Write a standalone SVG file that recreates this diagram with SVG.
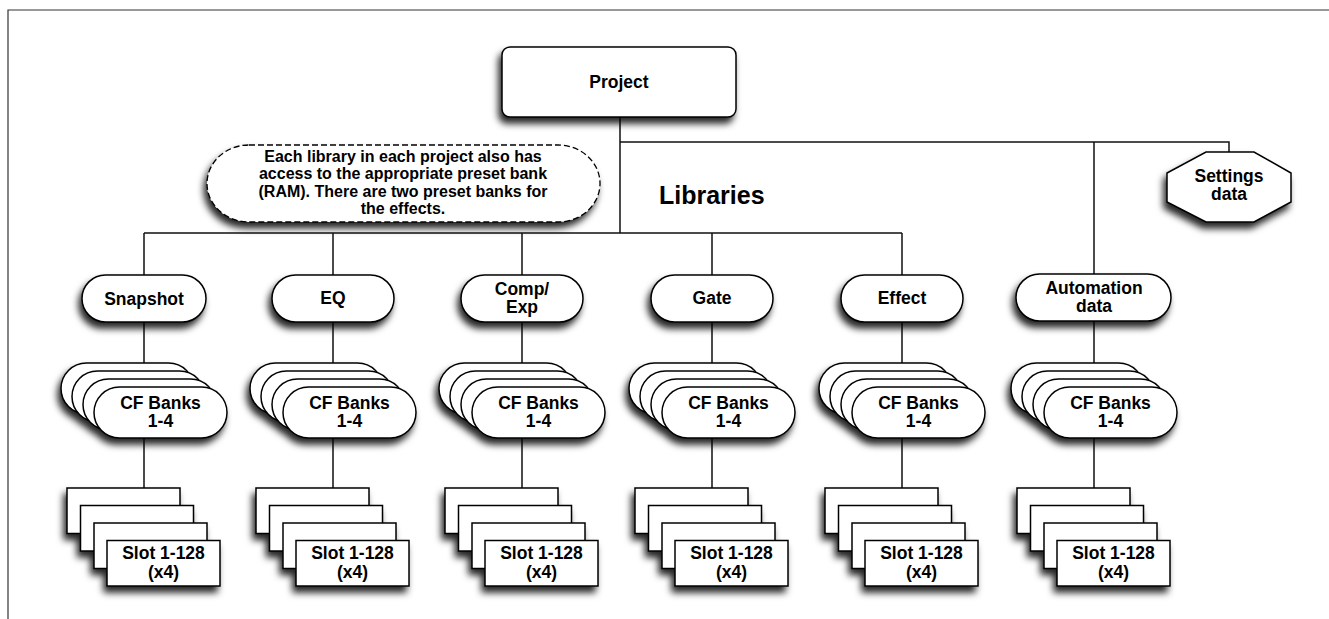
<svg xmlns="http://www.w3.org/2000/svg" width="1329" height="619" viewBox="0 0 1329 619">
<defs>
<filter id="sh" x="-30%" y="-30%" width="160%" height="180%">
<feDropShadow dx="-3" dy="6" stdDeviation="3.5" flood-color="#000" flood-opacity="0.85"/>
</filter>
<style>
.n{fill:#fff;stroke:#000;stroke-width:1.5}
.d{fill:#fff;stroke:#000;stroke-width:1.3;stroke-dasharray:6 3}
.t{font-family:"Liberation Sans",Arial,Helvetica,sans-serif;font-weight:bold;font-size:17.5px;text-anchor:middle;fill:#000}
.s{font-size:16px}
.big{font-size:25px;text-anchor:start}
.c{fill:none;stroke:#111;stroke-width:1.5}
.f{fill:none;stroke:#333;stroke-width:1.2}
</style>
</defs>
<rect width="1329" height="619" fill="#fff"/>
<path class="f" d="M8,619 V10 H1329"/>

<g id="connectors">
<path class="c" d="M620,117 V233 M144,233 H902 M144,233 V275 M333,233 V275 M522,233 V275 M712,233 V275 M902,233 V275"/>
<path class="c" d="M620,142 H1229 V152 M1094,142 V274"/>
<path class="c" d="M144,322 V363 M333,322 V363 M522,322 V363 M712,322 V363 M902,322 V363 M1094,321 V363"/>
<path class="c" d="M144,438 V488 M333,438 V488 M522,438 V488 M712,438 V488 M902,438 V488 M1094,438 V488"/>
</g>

<g id="project">
<rect class="n" x="502" y="47" width="234" height="70" rx="8" filter="url(#sh)"/>
<text class="t" x="619" y="88">Project</text>
</g>

<g id="note">
<rect class="d" x="207" y="145" width="393" height="77" rx="42" ry="38.5" filter="url(#sh)"/>
<text class="t s" x="403" y="162">Each library in each project also has</text>
<text class="t s" x="403" y="179">access to the appropriate preset bank</text>
<text class="t s" x="403" y="197">(RAM). There are two preset banks for</text>
<text class="t s" x="403" y="214">the effects.</text>
</g>

<g id="libraries-label">
<text class="t big" x="659" y="204">Libraries</text>
</g>

<g id="settings">
<polygon class="n" points="1206,152 1254,152 1291,173 1291,202 1254,222 1206,222 1167,202 1167,173" filter="url(#sh)"/>
<text class="t" x="1229" y="182">Settings</text>
<text class="t" x="1229" y="200">data</text>
</g>

<g id="snapshot" transform="translate(144,0)">
<rect class="n" x="-62" y="275" width="124" height="47" rx="23.5" filter="url(#sh)"/>
<text class="t" x="0" y="305">Snapshot</text>
<g filter="url(#sh)">
<rect class="n" x="-83" y="363" width="133" height="51" rx="25.5"/>
<rect class="n" x="-72" y="371" width="133" height="51" rx="25.5"/>
<rect class="n" x="-61" y="379" width="133" height="51" rx="25.5"/>
<rect class="n" x="-50" y="387" width="133" height="51" rx="25.5"/>
</g>
<text class="t" x="16.5" y="409">CF Banks</text>
<text class="t" x="16.5" y="427">1-4</text>
<g filter="url(#sh)">
<rect class="n" x="-77" y="488" width="113" height="45.5"/>
<rect class="n" x="-63.5" y="505.5" width="113" height="45.5"/>
<rect class="n" x="-50" y="523" width="113" height="45.5"/>
<rect class="n" x="-37" y="540.5" width="113" height="45.5"/>
</g>
<text class="t" x="19.5" y="559">Slot 1-128</text>
<text class="t" x="19.5" y="578">(x4)</text>
</g>

<g id="eq" transform="translate(333,0)">
<rect class="n" x="-61" y="275" width="122" height="47" rx="23.5" filter="url(#sh)"/>
<text class="t" x="0" y="304">EQ</text>
<g filter="url(#sh)">
<rect class="n" x="-83" y="363" width="133" height="51" rx="25.5"/>
<rect class="n" x="-72" y="371" width="133" height="51" rx="25.5"/>
<rect class="n" x="-61" y="379" width="133" height="51" rx="25.5"/>
<rect class="n" x="-50" y="387" width="133" height="51" rx="25.5"/>
</g>
<text class="t" x="16.5" y="409">CF Banks</text>
<text class="t" x="16.5" y="427">1-4</text>
<g filter="url(#sh)">
<rect class="n" x="-77" y="488" width="113" height="45.5"/>
<rect class="n" x="-63.5" y="505.5" width="113" height="45.5"/>
<rect class="n" x="-50" y="523" width="113" height="45.5"/>
<rect class="n" x="-37" y="540.5" width="113" height="45.5"/>
</g>
<text class="t" x="19.5" y="559">Slot 1-128</text>
<text class="t" x="19.5" y="578">(x4)</text>
</g>

<g id="compexp" transform="translate(522,0)">
<rect class="n" x="-61" y="275" width="122" height="47" rx="23.5" filter="url(#sh)"/>
<text class="t" x="0" y="295">Comp/</text>
<text class="t" x="0" y="313">Exp</text>
<g filter="url(#sh)">
<rect class="n" x="-83" y="363" width="133" height="51" rx="25.5"/>
<rect class="n" x="-72" y="371" width="133" height="51" rx="25.5"/>
<rect class="n" x="-61" y="379" width="133" height="51" rx="25.5"/>
<rect class="n" x="-50" y="387" width="133" height="51" rx="25.5"/>
</g>
<text class="t" x="16.5" y="409">CF Banks</text>
<text class="t" x="16.5" y="427">1-4</text>
<g filter="url(#sh)">
<rect class="n" x="-77" y="488" width="113" height="45.5"/>
<rect class="n" x="-63.5" y="505.5" width="113" height="45.5"/>
<rect class="n" x="-50" y="523" width="113" height="45.5"/>
<rect class="n" x="-37" y="540.5" width="113" height="45.5"/>
</g>
<text class="t" x="19.5" y="559">Slot 1-128</text>
<text class="t" x="19.5" y="578">(x4)</text>
</g>

<g id="gate" transform="translate(712,0)">
<rect class="n" x="-61" y="275" width="122" height="47" rx="23.5" filter="url(#sh)"/>
<text class="t" x="0" y="304">Gate</text>
<g filter="url(#sh)">
<rect class="n" x="-83" y="363" width="133" height="51" rx="25.5"/>
<rect class="n" x="-72" y="371" width="133" height="51" rx="25.5"/>
<rect class="n" x="-61" y="379" width="133" height="51" rx="25.5"/>
<rect class="n" x="-50" y="387" width="133" height="51" rx="25.5"/>
</g>
<text class="t" x="16.5" y="409">CF Banks</text>
<text class="t" x="16.5" y="427">1-4</text>
<g filter="url(#sh)">
<rect class="n" x="-77" y="488" width="113" height="45.5"/>
<rect class="n" x="-63.5" y="505.5" width="113" height="45.5"/>
<rect class="n" x="-50" y="523" width="113" height="45.5"/>
<rect class="n" x="-37" y="540.5" width="113" height="45.5"/>
</g>
<text class="t" x="19.5" y="559">Slot 1-128</text>
<text class="t" x="19.5" y="578">(x4)</text>
</g>

<g id="effect" transform="translate(902,0)">
<rect class="n" x="-61" y="275" width="122" height="47" rx="23.5" filter="url(#sh)"/>
<text class="t" x="0" y="304">Effect</text>
<g filter="url(#sh)">
<rect class="n" x="-83" y="363" width="133" height="51" rx="25.5"/>
<rect class="n" x="-72" y="371" width="133" height="51" rx="25.5"/>
<rect class="n" x="-61" y="379" width="133" height="51" rx="25.5"/>
<rect class="n" x="-50" y="387" width="133" height="51" rx="25.5"/>
</g>
<text class="t" x="16.5" y="409">CF Banks</text>
<text class="t" x="16.5" y="427">1-4</text>
<g filter="url(#sh)">
<rect class="n" x="-77" y="488" width="113" height="45.5"/>
<rect class="n" x="-63.5" y="505.5" width="113" height="45.5"/>
<rect class="n" x="-50" y="523" width="113" height="45.5"/>
<rect class="n" x="-37" y="540.5" width="113" height="45.5"/>
</g>
<text class="t" x="19.5" y="559">Slot 1-128</text>
<text class="t" x="19.5" y="578">(x4)</text>
</g>

<g id="automation" transform="translate(1094,0)">
<rect class="n" x="-78" y="274" width="155" height="47" rx="23.5" filter="url(#sh)"/>
<text class="t" x="0" y="294">Automation</text>
<text class="t" x="0" y="312">data</text>
<g filter="url(#sh)">
<rect class="n" x="-83" y="363" width="133" height="51" rx="25.5"/>
<rect class="n" x="-72" y="371" width="133" height="51" rx="25.5"/>
<rect class="n" x="-61" y="379" width="133" height="51" rx="25.5"/>
<rect class="n" x="-50" y="387" width="133" height="51" rx="25.5"/>
</g>
<text class="t" x="16.5" y="409">CF Banks</text>
<text class="t" x="16.5" y="427">1-4</text>
<g filter="url(#sh)">
<rect class="n" x="-77" y="488" width="113" height="45.5"/>
<rect class="n" x="-63.5" y="505.5" width="113" height="45.5"/>
<rect class="n" x="-50" y="523" width="113" height="45.5"/>
<rect class="n" x="-37" y="540.5" width="113" height="45.5"/>
</g>
<text class="t" x="19.5" y="559">Slot 1-128</text>
<text class="t" x="19.5" y="578">(x4)</text>
</g>
</svg>
